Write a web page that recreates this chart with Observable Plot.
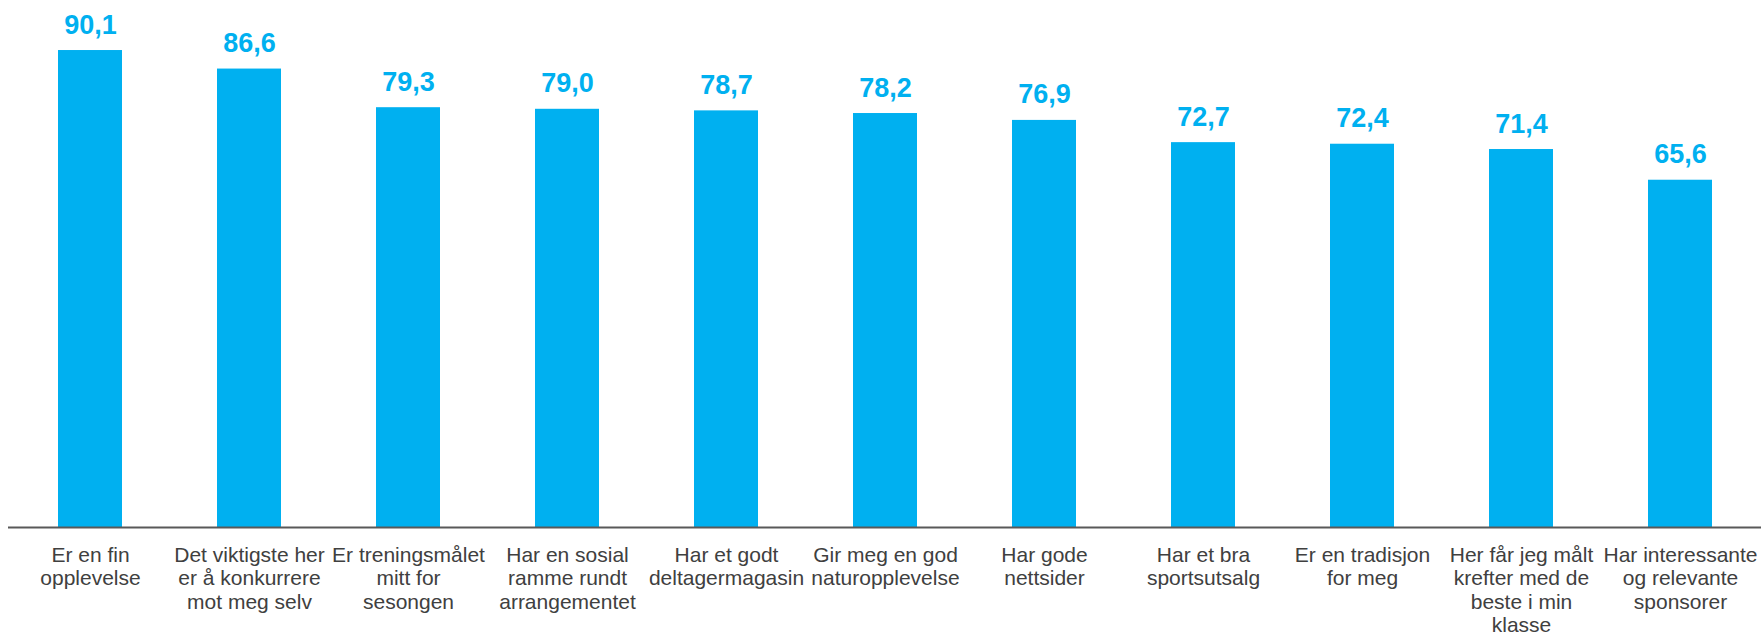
<!DOCTYPE html>
<html>
<head>
<meta charset="utf-8">
<script src="https://cdn.jsdelivr.net/npm/d3@7"></script>
<script src="https://cdn.jsdelivr.net/npm/@observablehq/plot@0.6"></script>
<style>
  html, body { margin: 0; padding: 0; background: #fff; }
  #chart svg { display: block; }
</style>
</head>
<body>
<div id="chart"></div>
<script>
const categories = [
  "Er en fin\nopplevelse",
  "Det viktigste her\ner å konkurrere\nmot meg selv",
  "Er treningsmålet\nmitt for\nsesongen",
  "Har en sosial\nramme rundt\narrangementet",
  "Har et godt\ndeltagermagasin",
  "Gir meg en god\nnaturopplevelse",
  "Har gode\nnettsider",
  "Har et bra\nsportsutsalg",
  "Er en tradisjon\nfor meg",
  "Her får jeg målt\nkrefter med de\nbeste i min\nklasse",
  "Har interessante\nog relevante\nsponsorer"
];
const values = [90.1, 86.6, 79.3, 79.0, 78.7, 78.2, 76.9, 72.7, 72.4, 71.4, 65.6];

const data = categories.map((c, i) => ({cat: c, value: values[i]}));
const fmt = v => v.toFixed(1).replace(".", ",");
const blue = "#00B0F0";

const chart = Plot.plot({
  width: 1761,
  height: 635,
  marginTop: 0,
  marginLeft: 8,
  marginRight: 0,
  marginBottom: 108,
  style: {fontFamily: "'Liberation Sans', Arial, sans-serif", background: "#fff"},
  x: {domain: categories, paddingInner: 0.598, paddingOuter: 0.3, label: null},
  y: {domain: [0, 99.55], axis: null},
  marks: [
    Plot.barY(data, {x: "cat", y: "value", fill: blue}),
    Plot.ruleY([0], {stroke: "#595959", strokeWidth: 2}),
    Plot.text(data, {x: "cat", y: "value", text: d => fmt(d.value), lineAnchor: "bottom", dy: -17,
      fill: blue, fontSize: 27, fontWeight: "bold"}),
    Plot.axisX({tickSize: 0, tickPadding: 18, fontSize: 21, lineHeight: 1.11, fill: "#404040", label: null})
  ]
});
document.getElementById("chart").appendChild(chart);
</script>
</body>
</html>
